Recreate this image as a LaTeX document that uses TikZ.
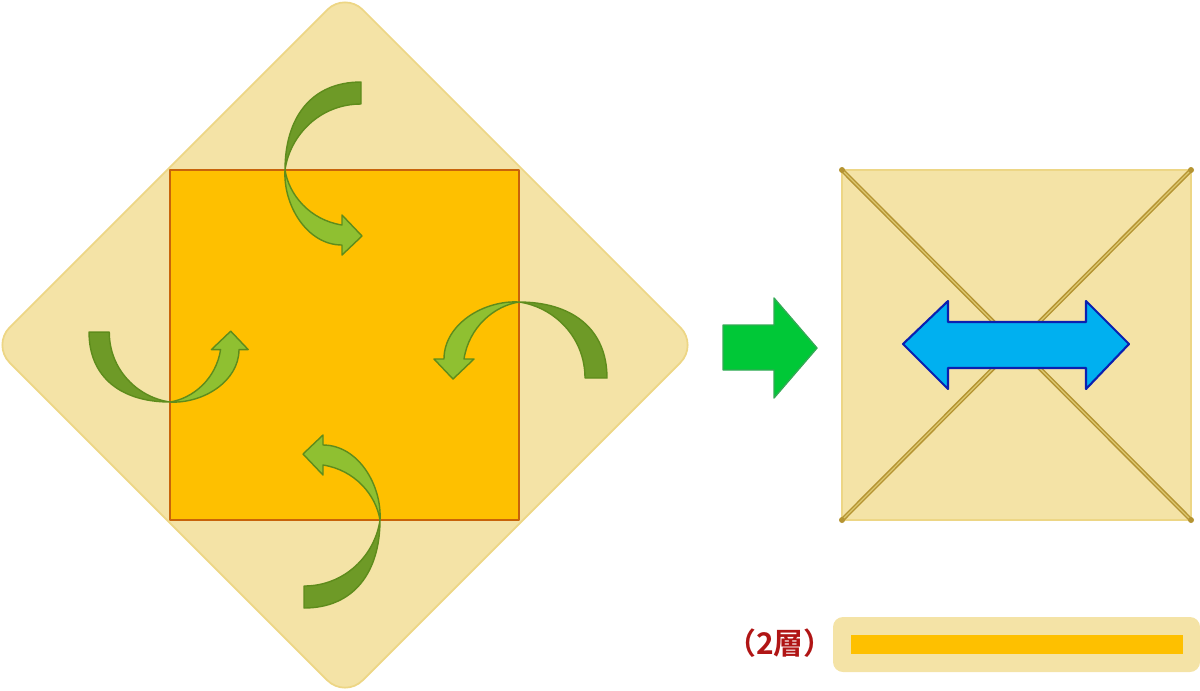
\documentclass[tikz,border=0pt]{standalone}
\usepackage{fontspec}
\newfontfamily\cjk{Noto Sans CJK JP}[BoldFont=Noto Sans CJK JP Bold]
\definecolor{paper}{HTML}{F4E3A6}
\definecolor{paperline}{HTML}{EDD685}
\definecolor{sheet}{HTML}{FEC000}
\definecolor{sheetline}{HTML}{C8640A}
\definecolor{darkleaf}{HTML}{6E9A27}
\definecolor{lightleaf}{HTML}{8FC031}
\definecolor{leafline}{HTML}{5E8C1C}
\definecolor{gogreen}{HTML}{00C837}
\definecolor{golineg}{HTML}{33AA55}
\definecolor{sky}{HTML}{00B0F0}
\definecolor{skyline}{HTML}{0A20B0}
\definecolor{crease}{HTML}{B59432}
\definecolor{creaselight}{HTML}{DCC870}
\definecolor{labelred}{HTML}{B01515}

% one folding arrow, drawn for the top flap
\newcommand{\foldarrow}[3]{%
  \begin{scope}[shift={#1}, rotate=#2, scale=#3, draw=leafline, line width=0.4pt, line join=round]
    \filldraw[fill=darkleaf]
    (76,-88) ..
    controls (26,-88) and (0,-52) ..
    (0,0) ..
    controls (5,-35) and (35,-66) ..
    (76,-66) --
    cycle;
    \filldraw[fill=lightleaf]
    (0,0) ..
    controls (4,25) and (25,50) ..
    (57,55) --
    (57,45) --
    (77,66) --
    (57,85) --
    (57,75) ..
    controls (22,75) and (-2,35) ..
    (0,0) --
    cycle;
  \end{scope}}

\begin{document}
\begin{tikzpicture}[x=0.01cm, y=-0.01cm, line join=round]
  \useasboundingbox (0,0) rectangle (1200,690);

  % paper turned on its corner
  \filldraw[fill=paper, draw=paperline, line width=0.5pt, rounded corners=0.25cm]
  (345,-8) --
  (698,345) --
  (345,698) --
  (-8,345) --
  cycle;

  % folded square
  \filldraw[fill=sheet, draw=sheetline, line width=0.6pt]
  (170,170) rectangle (519,520);

  \foldarrow{(285,170)}{0}{1}
  \foldarrow{(170,402)}{90}{0.92}
  \foldarrow{(380,520)}{180}{1}
  \foldarrow{(519,302)}{-90}{1}

  % next step
  \filldraw[fill=gogreen, draw=golineg, line width=0.4pt]
  (723,325) --
  (774,325) --
  (774,298) --
  (817,348) --
  (774,398) --
  (774,370) --
  (723,370) --
  cycle;

  % result square with creases
  \filldraw[fill=paper, draw=paperline, line width=0.5pt]
  (842,170) rectangle (1191,520);
  \foreach \a/\b in {{(842,170)}/{(1191,520)}, {(1191,170)}/{(842,520)}} {
    \draw[crease, line width=1.2pt, line cap=round] \a -- \b;
    \draw[creaselight, line width=0.35pt] \a -- \b;
    \fill[crease] \a circle (3) \b circle (3);
  }

  \filldraw[fill=sky, draw=skyline, line width=0.6pt]
  (903,344) --
  (948,301) --
  (948,322) --
  (1086,322) --
  (1086,301) --
  (1129,344) --
  (1086,389) --
  (1086,368) --
  (948,368) --
  (948,389) --
  cycle;

  % two layers
  \fill[paper, rounded corners=0.1cm] (833,617) rectangle (1200,672);
  \fill[sheet] (851,635) rectangle (1183,654);
  \node[text=labelred, font=\cjk\bfseries\fontsize{8.5}{10}\selectfont, inner sep=0pt] (layers) at (780,643) {（2層）};
\end{tikzpicture}
\end{document}
